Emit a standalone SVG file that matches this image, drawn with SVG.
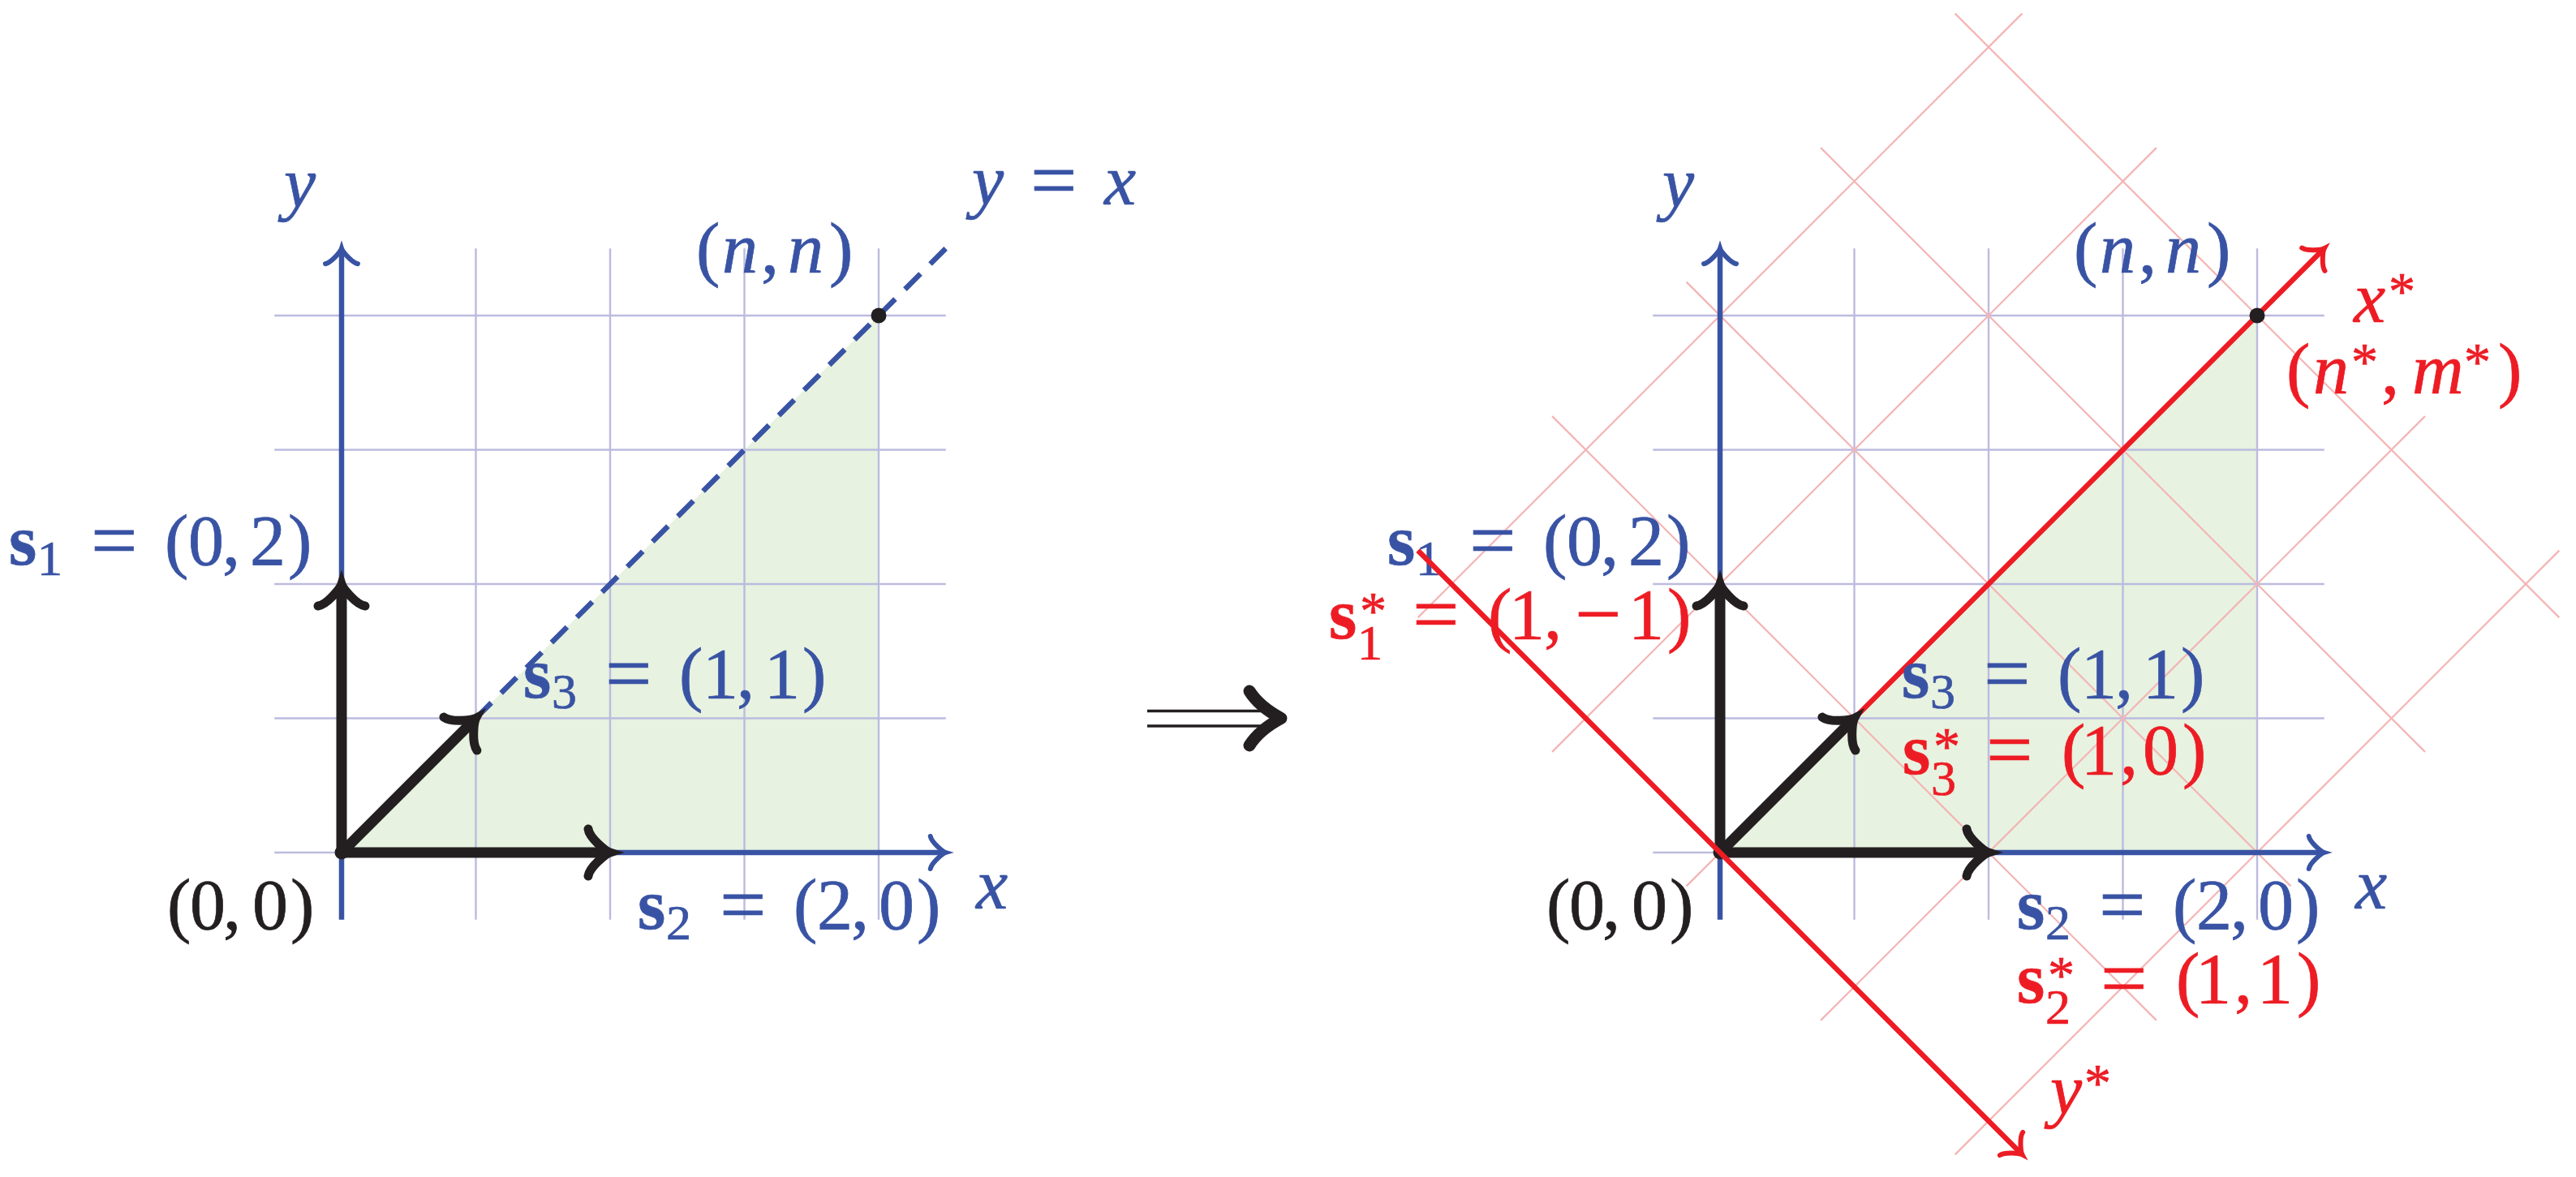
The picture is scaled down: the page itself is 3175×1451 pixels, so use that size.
<svg xmlns="http://www.w3.org/2000/svg" width="3175" height="1451" viewBox="0 0 3175 1451">
<style>
.t{font-family:"Liberation Serif","Times New Roman",serif;font-size:88px;stroke-width:0.7px}
.i{font-style:italic}
.b{font-weight:bold}
.sub{font-size:62px}
.sup{font-size:66px}
.eq{font-size:102px}
.bl{fill:#3953a4;stroke:#3953a4}
.rd{fill:#ed1c24;stroke:#ed1c24}
.bk{fill:#231f20;stroke:#231f20}
.grid{stroke:#bcbbdf;stroke-width:2.4;fill:none}
.pgrid{stroke:#f4b4b4;stroke-width:2.2;fill:none}
.tri{fill:#e7f2e0;stroke:none}
.axb{stroke:#3953a4;stroke-width:6.5;fill:none}
.axr{stroke:#ed1c24;stroke-width:6.5;fill:none}
.vec{stroke:#231f20;stroke-width:13;fill:none;stroke-linecap:round}
</style>
<defs>
<marker id="ab" markerUnits="userSpaceOnUse" orient="auto" refX="-3" refY="0" markerWidth="80" markerHeight="80" viewBox="-40 -40 80 80" overflow="visible">
<path d="M -19 -20 C -17.5 -12.5 -4 -1.25 0 0 C -4 1.25 -17.5 12.5 -19 20" fill="none" stroke="#3953a4" stroke-width="6" stroke-linecap="round"/>
</marker>
<marker id="ar" markerUnits="userSpaceOnUse" orient="auto" refX="-3" refY="0" markerWidth="80" markerHeight="80" viewBox="-40 -40 80 80" overflow="visible">
<path d="M -19 -20 C -17.5 -12.5 -4 -1.25 0 0 C -4 1.25 -17.5 12.5 -19 20" fill="none" stroke="#ed1c24" stroke-width="6" stroke-linecap="round"/>
</marker>
<marker id="ak" markerUnits="userSpaceOnUse" orient="auto" refX="-6" refY="0" markerWidth="80" markerHeight="80" viewBox="-40 -40 80 80" overflow="visible">
<path d="M -27 -29 C -25.5 -18 -5.5 -1.8 0 0 C -5.5 1.8 -25.5 18 -27 29" fill="none" stroke="#231f20" stroke-width="11" stroke-linecap="round"/>
</marker>
</defs>

<!-- LEFT PANEL -->
<g id="left-region">
<polygon class="tri" points="421,1051 1083,389 1083,1051"/>
</g>
<g id="left-grid" class="grid">
<line x1="421" y1="306.25" x2="421" y2="1133.75"/>
<line x1="586.5" y1="306.25" x2="586.5" y2="1133.75"/>
<line x1="752" y1="306.25" x2="752" y2="1133.75"/>
<line x1="917.5" y1="306.25" x2="917.5" y2="1133.75"/>
<line x1="1083" y1="306.25" x2="1083" y2="1133.75"/>
<line x1="338.25" y1="1051" x2="1165.75" y2="1051"/>
<line x1="338.25" y1="885.5" x2="1165.75" y2="885.5"/>
<line x1="338.25" y1="720" x2="1165.75" y2="720"/>
<line x1="338.25" y1="554.5" x2="1165.75" y2="554.5"/>
<line x1="338.25" y1="389" x2="1165.75" y2="389"/>
</g>
<g id="connectors-left">
<line class="axb" x1="421" y1="1133.75" x2="421" y2="309.25" marker-end="url(#ab)"/>
<line class="axb" x1="421" y1="1051" x2="1162.75" y2="1051" marker-end="url(#ab)"/>
<line class="axb" x1="586.5" y1="885.5" x2="1165.75" y2="306.25" stroke-dasharray="27 17"/>
<line class="vec" x1="421" y1="1051" x2="421" y2="726" marker-end="url(#ak)"/>
<line class="vec" x1="421" y1="1051" x2="746" y2="1051" marker-end="url(#ak)"/>
<line class="vec" x1="421" y1="1051" x2="582.25" y2="889.75" marker-end="url(#ak)"/>
<circle cx="421" cy="1051" r="8.5" fill="#231f20"/>
</g>
<g id="left-point-nn"><circle cx="1083" cy="389" r="9.5" fill="#231f20"/></g>
<g id="left-labels">
<text class="t i bl" x="350" y="255">y</text>
<text class="t bl"><tspan class="i" x="1198" y="252">y</tspan><tspan class="eq" x="1270" y="256">=</tspan><tspan class="i" x="1361" y="252">x</tspan></text>
<text class="t bl"><tspan x="858" y="336">(</tspan><tspan class="i" x="890" y="336">n</tspan><tspan x="938" y="336">,</tspan><tspan class="i" x="971" y="336">n</tspan><tspan x="1022" y="336">)</tspan></text>
<text class="t bl"><tspan class="b" x="11" y="696">s</tspan><tspan class="sub" x="46" y="709">1</tspan><tspan class="eq" x="112" y="700">=</tspan><tspan x="203" y="696">(</tspan><tspan x="232" y="696">0</tspan><tspan x="274" y="696">,</tspan><tspan x="308" y="696">2</tspan><tspan x="355" y="696">)</tspan></text>
<text class="t bl"><tspan class="b" x="645" y="860">s</tspan><tspan class="sub" x="680" y="873">3</tspan><tspan class="eq" x="746" y="864">=</tspan><tspan x="837" y="860">(</tspan><tspan x="866" y="860">1</tspan><tspan x="908" y="860">,</tspan><tspan x="942" y="860">1</tspan><tspan x="989" y="860">)</tspan></text>
<text class="t bl"><tspan class="b" x="786" y="1145">s</tspan><tspan class="sub" x="821" y="1158">2</tspan><tspan class="eq" x="887" y="1149">=</tspan><tspan x="978" y="1145">(</tspan><tspan x="1007" y="1145">2</tspan><tspan x="1049" y="1145">,</tspan><tspan x="1083" y="1145">0</tspan><tspan x="1130" y="1145">)</tspan></text>
<text class="t i bl" x="1203" y="1120">x</text>
<text class="t bk"><tspan x="206" y="1145">(</tspan><tspan x="234" y="1145">0</tspan><tspan x="275" y="1145">,</tspan><tspan x="311" y="1145">0</tspan><tspan x="358" y="1145">)</tspan></text>
</g>

<!-- IMPLIES ARROW -->
<g id="implies">
<line x1="1414" y1="876.5" x2="1562" y2="876.5" stroke="#231f20" stroke-width="3.5"/>
<line x1="1414" y1="895" x2="1562" y2="895" stroke="#231f20" stroke-width="3.5"/>
<path d="M 1540 852 C 1550 868 1565 878 1579 885.5 C 1565 893 1550 903 1540 919" fill="none" stroke="#231f20" stroke-width="15" stroke-linecap="round" stroke-linejoin="round"/>
</g>

<!-- RIGHT PANEL -->
<g id="right-region">
<polygon class="tri" points="2120,1051 2782,389 2782,1051"/>
</g>
<g id="right-grid" class="grid">
<line x1="2120" y1="306.25" x2="2120" y2="1133.75"/>
<line x1="2285.5" y1="306.25" x2="2285.5" y2="1133.75"/>
<line x1="2451" y1="306.25" x2="2451" y2="1133.75"/>
<line x1="2616.5" y1="306.25" x2="2616.5" y2="1133.75"/>
<line x1="2782" y1="306.25" x2="2782" y2="1133.75"/>
<line x1="2037.25" y1="1051" x2="2864.75" y2="1051"/>
<line x1="2037.25" y1="885.5" x2="2864.75" y2="885.5"/>
<line x1="2037.25" y1="720" x2="2864.75" y2="720"/>
<line x1="2037.25" y1="554.5" x2="2864.75" y2="554.5"/>
<line x1="2037.25" y1="389" x2="2864.75" y2="389"/>
</g>
<g id="rotated-grid" class="pgrid">
<line x1="1747.6" y1="678.6" x2="2492.4" y2="1423.4"/>
<line x1="1913.1" y1="513.1" x2="2657.9" y2="1257.9"/>
<line x1="2078.6" y1="347.6" x2="2823.4" y2="1092.4"/>
<line x1="2244.1" y1="182.1" x2="2988.9" y2="926.9"/>
<line x1="2409.6" y1="16.6" x2="3154.4" y2="761.4"/>
<line x1="1747.6" y1="761.4" x2="2492.4" y2="16.6"/>
<line x1="1913.1" y1="926.9" x2="2657.9" y2="182.1"/>
<line x1="2078.6" y1="1092.4" x2="2823.4" y2="347.6"/>
<line x1="2244.1" y1="1257.9" x2="2988.9" y2="513.1"/>
<line x1="2409.6" y1="1423.4" x2="3154.4" y2="678.6"/>
</g>
<g id="connectors-right">
<line class="axb" x1="2120" y1="1133.75" x2="2120" y2="309.25" marker-end="url(#ab)"/>
<line class="axb" x1="2120" y1="1051" x2="2861.75" y2="1051" marker-end="url(#ab)"/>
<line class="axr" x1="2120" y1="1051" x2="2862.6" y2="308.4" marker-end="url(#ar)"/>
<line class="vec" x1="2120" y1="1051" x2="2120" y2="726" marker-end="url(#ak)"/>
<line class="vec" x1="2120" y1="1051" x2="2445" y2="1051" marker-end="url(#ak)"/>
<line class="vec" x1="2120" y1="1051" x2="2281.25" y2="889.75" marker-end="url(#ak)"/>
<circle cx="2120" cy="1051" r="8.5" fill="#231f20"/>
</g>
<g id="right-point-nn"><circle cx="2782" cy="389" r="9.5" fill="#231f20"/></g>
<g id="right-labels">
<text class="t i bl" x="2049" y="255">y</text>
<text class="t bl"><tspan x="2556" y="336">(</tspan><tspan class="i" x="2588" y="336">n</tspan><tspan x="2636" y="336">,</tspan><tspan class="i" x="2669" y="336">n</tspan><tspan x="2720" y="336">)</tspan></text>
<text class="t bl"><tspan class="b" x="1710" y="696">s</tspan><tspan class="sub" x="1745" y="709">1</tspan><tspan class="eq" x="1811" y="700">=</tspan><tspan x="1902" y="696">(</tspan><tspan x="1931" y="696">0</tspan><tspan x="1973" y="696">,</tspan><tspan x="2007" y="696">2</tspan><tspan x="2054" y="696">)</tspan></text>
<text class="t bl"><tspan class="b" x="2344" y="860">s</tspan><tspan class="sub" x="2379" y="873">3</tspan><tspan class="eq" x="2445" y="864">=</tspan><tspan x="2536" y="860">(</tspan><tspan x="2565" y="860">1</tspan><tspan x="2607" y="860">,</tspan><tspan x="2641" y="860">1</tspan><tspan x="2688" y="860">)</tspan></text>
<text class="t bl"><tspan class="b" x="2486" y="1145">s</tspan><tspan class="sub" x="2521" y="1158">2</tspan><tspan class="eq" x="2587" y="1149">=</tspan><tspan x="2678" y="1145">(</tspan><tspan x="2707" y="1145">2</tspan><tspan x="2749" y="1145">,</tspan><tspan x="2783" y="1145">0</tspan><tspan x="2830" y="1145">)</tspan></text>
<text class="t i bl" x="2903" y="1120">x</text>
<text class="t bk"><tspan x="1906" y="1145">(</tspan><tspan x="1934" y="1145">0</tspan><tspan x="1975" y="1145">,</tspan><tspan x="2011" y="1145">0</tspan><tspan x="2058" y="1145">)</tspan></text>
<text class="t rd"><tspan class="i" x="2901" y="397">x</tspan><tspan class="sup" x="2944" y="381">*</tspan></text>
<text class="t rd"><tspan x="2818" y="485">(</tspan><tspan class="i" x="2851" y="485">n</tspan><tspan class="sup" x="2898" y="468">*</tspan><tspan x="2935" y="485">,</tspan><tspan class="i" x="2973" y="485">m</tspan><tspan class="sup" x="3037" y="468">*</tspan><tspan x="3079" y="485">)</tspan></text>
<text class="t rd"><tspan class="b" x="1638" y="787">s</tspan><tspan class="sup" x="1676" y="775">*</tspan><tspan class="sub" x="1673" y="813">1</tspan><tspan class="eq" x="1741" y="791">=</tspan><tspan x="1834" y="787">(</tspan><tspan x="1860" y="787">1</tspan><tspan x="1903" y="787">,</tspan><tspan class="eq" x="1941" y="791">−</tspan><tspan x="2007" y="787">1</tspan><tspan x="2055" y="787">)</tspan></text>
<text class="t rd"><tspan class="b" x="2345" y="954">s</tspan><tspan class="sup" x="2383" y="942">*</tspan><tspan class="sub" x="2380" y="980">3</tspan><tspan class="eq" x="2448" y="958">=</tspan><tspan x="2541" y="954">(</tspan><tspan x="2565" y="954">1</tspan><tspan x="2613" y="954">,</tspan><tspan x="2641" y="954">0</tspan><tspan x="2690" y="954">)</tspan></text>
<text class="t rd"><tspan class="b" x="2486" y="1236">s</tspan><tspan class="sup" x="2524" y="1224">*</tspan><tspan class="sub" x="2521" y="1262">2</tspan><tspan class="eq" x="2589" y="1240">=</tspan><tspan x="2682" y="1236">(</tspan><tspan x="2706" y="1236">1</tspan><tspan x="2754" y="1236">,</tspan><tspan x="2782" y="1236">1</tspan><tspan x="2831" y="1236">)</tspan></text>
<text class="t rd"><tspan class="i" x="2527" y="1373">y</tspan><tspan class="sup" x="2569" y="1357">*</tspan></text>
</g>
<g id="connectors-right-top">
<line class="axr" x1="1747.6" y1="678.6" x2="2490.3" y2="1421.3" marker-end="url(#ar)"/>
</g>
</svg>
